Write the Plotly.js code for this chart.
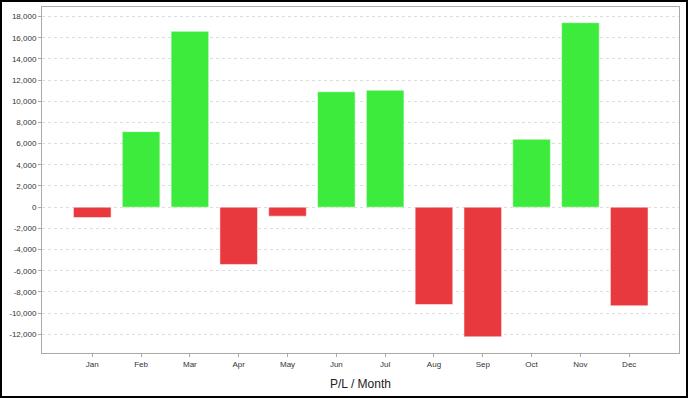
<!DOCTYPE html>
<html>
<head>
<meta charset="utf-8">
<script src="https://cdn.plot.ly/plotly-3.0.1.min.js"></script>
<style>
html,body{margin:0;padding:0;background:#fff;}
#wrap{width:688px;height:398px;box-sizing:border-box;border:2px solid #000;position:relative;overflow:hidden;}
#chart{position:absolute;left:-2px;top:-2px;width:688px;height:398px;}
</style>
</head>
<body>
<div id="wrap"><div id="chart"></div></div>
<script>
const months = ['Jan','Feb','Mar','Apr','May','Jun','Jul','Aug','Sep','Oct','Nov','Dec'];
const pl = [-980, 7130, 16600, -5410, -850, 10900, 11040, -9190, -12240, 6410, 17420, -9310];
const yTicks = [-12000,-10000,-8000,-6000,-4000,-2000,0,2000,4000,6000,8000,10000,12000,14000,16000,18000];

const colors = pl.map(v => v >= 0 ? '#3deb3d' : '#e8393e');

const trace = {
  type: 'bar',
  x: months,
  y: pl,
  width: 0.77,
  marker: {color: colors, line: {color: 'rgba(255,255,255,0.5)', width: 1}},
  hoverinfo: 'x+y'
};

const layout = {
  width: 688, height: 398,
  margin: {l: 42, r: 9, t: 7, b: 45},
  paper_bgcolor: 'rgba(0,0,0,0)',
  plot_bgcolor: '#fff',
  showlegend: false,
  font: {family: 'Liberation Sans, Arial, sans-serif', color: '#333'},
  xaxis: {
    type: 'category',
    range: [-1.03, 12.02],
    showline: true, mirror: true, linecolor: '#aaa', linewidth: 1,
    ticks: 'outside', ticklen: 3, tickcolor: '#aaa',
    showgrid: false, zeroline: false,
    tickfont: {size: 8, color: '#333'},
    title: {text: 'P/L / Month', font: {size: 12, color: '#222'}, standoff: 12}
  },
  yaxis: {
    range: [-13770, 18900],
    tickvals: yTicks,
    ticktext: yTicks.map(v => v.toLocaleString('en-US')),
    showline: true, mirror: true, linecolor: '#aaa', linewidth: 1,
    ticks: 'outside', ticklen: 3, tickcolor: '#aaa',
    showgrid: true, gridcolor: '#ddd', griddash: '3px,3px', gridwidth: 1,
    zeroline: false,
    tickfont: {size: 8, color: '#333'}
  }
};

Plotly.newPlot('chart', [trace], layout, {displayModeBar: false, staticPlot: true});
</script>
</body>
</html>
